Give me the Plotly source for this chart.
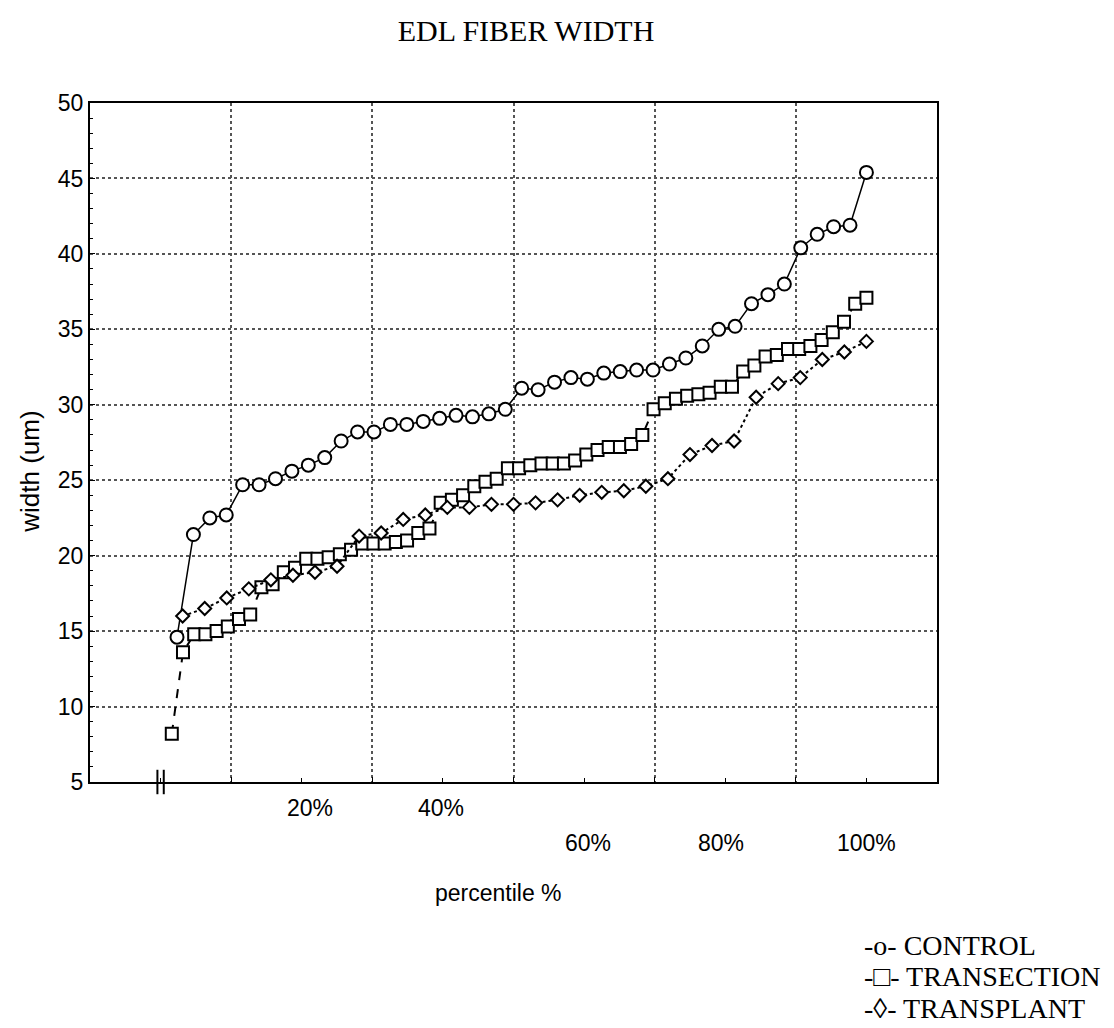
import plotly.graph_objects as go

# ---- data ----
control = [14.6, 21.4, 22.5, 22.7, 24.7, 24.7, 25.1, 25.6, 26.0, 26.5, 27.6, 28.2, 28.2, 28.7,
           28.7, 28.9, 29.1, 29.3, 29.2, 29.4, 29.7, 31.1, 31.0, 31.5, 31.8, 31.7, 32.1, 32.2,
           32.3, 32.3, 32.7, 33.1, 33.9, 35.0, 35.2, 36.7, 37.3, 38.0, 40.4, 41.3, 41.8, 41.9, 45.4]
transection = [8.2, 13.6, 14.8, 14.8, 15.0, 15.3, 15.8, 16.1, 17.9, 18.1, 18.9, 19.2, 19.8, 19.8,
               19.9, 20.1, 20.4, 20.8, 20.8, 20.8, 20.9, 21.0, 21.5, 21.8, 23.5, 23.7, 24.0, 24.6,
               24.9, 25.1, 25.8, 25.8, 26.0, 26.1, 26.1, 26.1, 26.3, 26.7, 27.0, 27.2, 27.2, 27.4,
               28.0, 29.7, 30.1, 30.4, 30.6, 30.7, 30.8, 31.2, 31.2, 32.2, 32.6, 33.2, 33.3, 33.7,
               33.7, 33.9, 34.3, 34.8, 35.5, 36.7, 37.1]
transplant = [16.0, 16.5, 17.2, 17.8, 18.4, 18.7, 18.9, 19.3, 21.3, 21.5, 22.4, 22.7, 23.2, 23.2,
              23.4, 23.4, 23.5, 23.7, 24.0, 24.2, 24.3, 24.6, 25.1, 26.7, 27.3, 27.6, 30.5, 31.4,
              31.8, 33.0, 33.5, 34.2]

x_tick_values = [20, 40, 60, 80, 100]
x_tick_labels = ["20%", "40%", "60%", "80%", "100%"]
legend_labels = ["-o- CONTROL", "-\u25a1- TRANSECTION", "-\u25ca- TRANSPLANT"]


def percentile_rank(vals):
    n = len(vals)
    return [100.0 * (i + 1) / n for i in range(n)]


fig = go.Figure()
mk_line = dict(color="black", width=2)
fig.add_trace(go.Scatter(
    x=percentile_rank(control), y=control, mode="lines+markers", name="CONTROL",
    line=dict(color="black", width=1.5),
    marker=dict(symbol="circle", size=13, color="white", line=mk_line)))
fig.add_trace(go.Scatter(
    x=percentile_rank(transection), y=transection, mode="lines+markers", name="TRANSECTION",
    line=dict(color="black", width=2, dash="dash"),
    marker=dict(symbol="square", size=12, color="white", line=mk_line)))
fig.add_trace(go.Scatter(
    x=percentile_rank(transplant), y=transplant, mode="lines+markers", name="TRANSPLANT",
    line=dict(color="black", width=2, dash="dot"),
    marker=dict(symbol="diamond", size=10, color="white", line=mk_line)))

grid_col = "#555555"
sans = "Liberation Sans, Arial"
serif = "Liberation Serif, Times New Roman"
fig.update_xaxes(
    range=[-10, 110], tick0=10, dtick=20, showticklabels=False,
    showgrid=True, gridcolor=grid_col, griddash="dot", gridwidth=1.5,
    showline=True, linecolor="black", linewidth=2, mirror=True,
    ticks="inside", ticklen=5, tickcolor="black", zeroline=False,
    minor=dict(tick0=0, dtick=20, ticks="inside", ticklen=4, tickcolor="black", showgrid=False),
)
fig.update_yaxes(
    range=[5, 50], tick0=5, dtick=5,
    showgrid=True, gridcolor=grid_col, griddash="dot", gridwidth=1.5,
    showline=True, linecolor="black", linewidth=2, mirror=True,
    ticks="inside", ticklen=5, tickcolor="black", zeroline=False,
    tickfont=dict(family=sans, size=23, color="black"),
    minor=dict(dtick=1, ticks="inside", ticklen=3, tickcolor="black", showgrid=False),
)

annotations = []
label_shift = [-26, -26, -61, -61, -61]
label_xshift = [8, -2, 4, -4, 0]
for v, t, ys, xs in zip(x_tick_values, x_tick_labels, label_shift, label_xshift):
    annotations.append(dict(x=v, y=0, xref="x", yref="paper", text=t, showarrow=False,
                            xanchor="center", yanchor="middle", yshift=ys, xshift=xs,
                            font=dict(family=sans, size=23, color="black")))
annotations.append(dict(x=0.482, y=0, xref="paper", yref="paper", text="percentile %",
                        showarrow=False, xanchor="center", yanchor="middle", yshift=-111,
                        font=dict(family=sans, size=23, color="black")))
annotations.append(dict(x=-0.0708, y=0.457, xref="paper", yref="paper", text="width (um)",
                        showarrow=False, textangle=-90, xanchor="center", yanchor="middle",
                        font=dict(family=sans, size=26, color="black")))
for i, t in enumerate(legend_labels):
    annotations.append(dict(x=0.9115, y=0, xref="paper", yref="paper", text=t,
                            showarrow=False, xanchor="left", yanchor="middle",
                            yshift=-163 - 31.5 * i,
                            font=dict(family=serif, size=28, color="black")))

# axis break mark "||" at 0%
shapes = []
for xb in [-0.45, 0.45]:
    shapes.append(dict(type="line", xref="x", yref="paper", x0=xb, x1=xb, y0=-0.018, y1=0.018,
                       line=dict(color="black", width=2)))

fig.update_layout(
    width=1114, height=1028,
    paper_bgcolor="white", plot_bgcolor="white",
    margin=dict(l=82, r=185, t=95, b=254),
    showlegend=False,
    title=dict(text="EDL FIBER WIDTH", x=0.465, xanchor="center", y=1 - 22 / 1028,
               yanchor="middle",
               font=dict(family=serif, size=30, color="black")),
    annotations=annotations, shapes=shapes,
)

fig.write_html("out.html")
